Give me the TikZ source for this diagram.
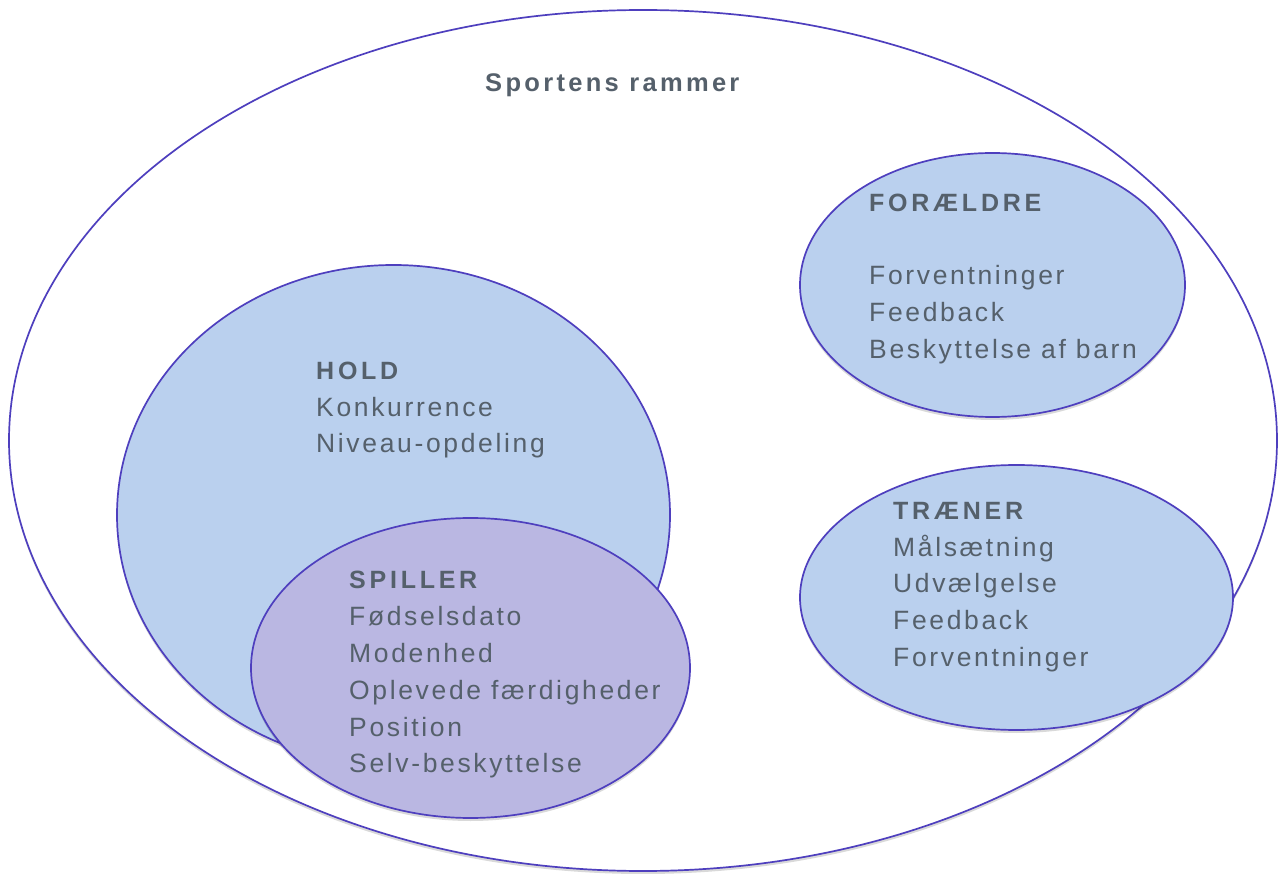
\documentclass[tikz,border=0pt]{standalone}
\usepackage{fontspec}
\setmainfont{Liberation Sans}
\newfontfamily\lbl{Liberation Sans}[LetterSpace=10]
\newfontfamily\hdr{Liberation Sans}[LetterSpace=15]
\newfontfamily\ttl{Liberation Sans}[LetterSpace=13]
\usetikzlibrary{shapes.geometric,shadows}
\definecolor{edgec}{HTML}{4E3FBE}
\definecolor{fillblue}{HTML}{BAD0EE}
\definecolor{fillviolet}{HTML}{BAB7E2}
\definecolor{txtc}{HTML}{55606B}
\tikzset{
  blob/.style={ellipse, draw=edgec, line width=1.7pt, inner sep=0pt,
    drop shadow={shadow xshift=0pt, shadow yshift=-3pt, opacity=0.15, fill=black}},
  line/.style={anchor=base west, inner sep=0pt, text=txtc, font=\lbl\fontsize{26.5}{32}\selectfont},
  head/.style={anchor=base west, inner sep=0pt, text=txtc, font=\hdr\bfseries\fontsize{25}{30}\selectfont},
  title/.style={anchor=base west, inner sep=0pt, text=txtc, font=\ttl\bfseries\fontsize{25.5}{30}\selectfont}
}
\begin{document}
\begin{tikzpicture}[x=1pt,y=-1pt]
\useasboundingbox (0,0) rectangle (1278,874);
\fill[white] (0,0) rectangle (1278,874);
% ellipses
\node[blob, fill=white, minimum width=1268pt, minimum height=861pt] (frame) at (643,440.5) {};
\node[blob, fill=fillblue, minimum width=553pt, minimum height=500pt] (hold) at (393.5,515) {};
\node[blob, fill=fillviolet, minimum width=439pt, minimum height=300pt] (spiller) at (470.5,668) {};
\node[blob, fill=fillblue, minimum width=385pt, minimum height=264pt] (foraeldre) at (992.5,285) {};
\node[blob, fill=fillblue, minimum width=433pt, minimum height=265pt] (traener) at (1016.5,597.5) {};
% title
\node[title] (ttl) at (485,92) {Sportens rammer};
% HOLD
\node[head] (h0) at (316,380) {HOLD};
\node[line] (h1) at (316,417) {Konkurrence};
\node[line] (h2) at (316,453) {Niveau-opdeling};
% FORÆLDRE
\node[head] (f0) at (869,212) {FORÆLDRE};
\node[line] (f1) at (869,285) {Forventninger};
\node[line] (f2) at (869,322) {Feedback};
\node[line] (f3) at (869,359) {Beskyttelse af barn};
% TRÆNER
\node[head] (t0) at (893,519) {TRÆNER};
\node[line] (t1) at (893,556) {Målsætning};
\node[line] (t2) at (893,592) {Udvælgelse};
\node[line] (t3) at (893,629) {Feedback};
\node[line] (t4) at (893,666) {Forventninger};
% SPILLER
\node[head] (s0) at (349,588) {SPILLER};
\node[line] (s1) at (349,625) {Fødselsdato};
\node[line] (s2) at (349,662) {Modenhed};
\node[line] (s3) at (349,699) {Oplevede færdigheder};
\node[line] (s4) at (349,736) {Position};
\node[line] (s5) at (349,772) {Selv-beskyttelse};
\end{tikzpicture}
\end{document}
